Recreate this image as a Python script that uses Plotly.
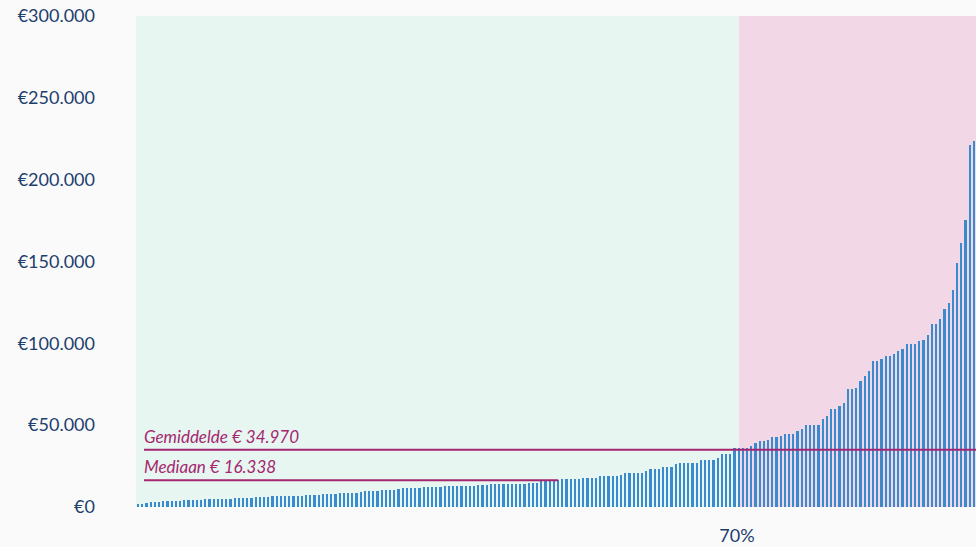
import plotly.graph_objects as go

# Income per 0.5% group, sorted ascending (euro)
incomes = [
    1600, 2000, 2400, 3100, 3100, 3100, 3700, 3700, 3700, 3700,
    3700, 4300, 4300, 4300, 4300, 4300, 4900, 4900, 4900, 4900,
    4900, 4900, 4900, 5500, 5500, 5500, 5500, 5500, 6100, 6100,
    6100, 6100, 6600, 6600, 6600, 6600, 7000, 7000, 7000, 7000,
    7400, 7400, 7400, 7400, 8000, 8000, 8000, 8000, 8800, 8800,
    8800, 8800, 8800, 9200, 9800, 9800, 9800, 9800, 10400, 10400,
    10400, 10400, 11100, 11400, 11400, 11400, 11400, 11400, 12300, 12300,
    12300, 12300, 12300, 12900, 12900, 12900, 12900, 12900, 12900, 12900,
    12900, 13500, 13500, 13500, 14300, 14300, 14300, 14300, 14300, 14300,
    14300, 14300, 14300, 14700, 14700, 14700, 16300, 16300, 16300, 16300,
    16300, 17000, 17000, 17000, 17000, 17000, 18000, 18000, 18000, 18000,
    19000, 19000, 19000, 19000, 19000, 19600, 20700, 20700, 20700, 20700,
    20700, 21700, 23100, 23100, 23100, 24600, 24600, 24600, 26200, 27000,
    27000, 27000, 27000, 27000, 28800, 28800, 28800, 28800, 29900, 32100,
    32100, 32100, 36000, 36000, 36000, 36000, 37400, 39100, 40400, 40400,
    41100, 42800, 42800, 43400, 44600, 44600, 44600, 46600, 47700, 50100,
    50100, 50100, 50100, 53800, 55400, 59900, 59900, 62000, 63600, 72200,
    72200, 72800, 76700, 79800, 83400, 89200, 89200, 90600, 92200, 92200,
    93300, 95100, 96800, 99800, 99800, 99800, 101400, 102300, 105400, 111700,
    111700, 114600, 120900, 124400, 132500, 148900, 161200, 175100, 220900, 223500,
]
assert len(incomes) == 200

groups = list(range(len(incomes)))
mean_value = 34970
median_value = 16338
mean_label = "Gemiddelde € 34.970"
median_label = "Mediaan € 16.338"
y_ticks = [0, 50000, 100000, 150000, 200000, 250000, 300000]
y_ticktext = ["€0", "€50.000", "€100.000", "€150.000", "€200.000", "€250.000", "€300.000"]
x_tick_label = "70%"

FONT = "Lato"
DARK_BLUE = "#1d3f6e"
MAGENTA = "#a5276f"
BAR_BLUE = "#3a8ace"

split_x = 143.07
x_lo, x_hi = -0.5, 199.5

fig = go.Figure()
fig.add_trace(go.Bar(
    x=groups, y=incomes, width=0.55,
    marker=dict(color=BAR_BLUE, line=dict(width=0)),
    hoverinfo="skip",
))

fig.add_shape(type="rect", xref="x", yref="y", x0=x_lo, x1=split_x, y0=0, y1=300000,
              fillcolor="#e7f6f1", line=dict(width=0), layer="below")
fig.add_shape(type="rect", xref="x", yref="y", x0=split_x, x1=x_hi, y0=0, y1=300000,
              fillcolor="#f2d8e6", line=dict(width=0), layer="below")

line_start = 1.4
fig.add_shape(type="line", xref="x", yref="y", x0=line_start, x1=x_hi, y0=mean_value, y1=mean_value,
              line=dict(color=MAGENTA, width=2), layer="above")
fig.add_shape(type="line", xref="x", yref="y", x0=line_start, x1=len(incomes) / 2, y0=median_value, y1=median_value,
              line=dict(color=MAGENTA, width=2), layer="above")

for val, txt in [(mean_value, mean_label), (median_value, median_label)]:
    fig.add_annotation(x=line_start, y=val, xref="x", yref="y", text=f"<i>{txt}</i>",
                       showarrow=False, xanchor="left", yanchor="bottom", yshift=1, xshift=-2,
                       font=dict(family=FONT, size=17, color=MAGENTA))

fig.update_layout(
    width=976, height=547,
    margin=dict(l=136, r=0, t=16, b=40),
    paper_bgcolor="#fafafa", plot_bgcolor="#fafafa",
    showlegend=False, bargap=0,
    font=dict(family=FONT, color=DARK_BLUE, size=17),
)
fig.update_xaxes(range=[x_lo, x_hi], tickvals=[142.6], ticktext=[x_tick_label],
                 showgrid=False, zeroline=False, showline=False, ticks="",
                 ticklabelstandoff=16, ticklabeloverflow="allow",
                 tickfont=dict(family=FONT, size=18, color=DARK_BLUE))
fig.update_yaxes(range=[0, 300000], tickvals=y_ticks, ticktext=y_ticktext,
                 showgrid=False, zeroline=False, showline=False, ticks="",
                 ticklabelstandoff=40, ticklabeloverflow="allow",
                 tickfont=dict(family=FONT, size=18, color=DARK_BLUE))

# remove the browser's default page margin so the 976x547 figure fills the window
fig.write_html("out.html", config={"displayModeBar": False},
               post_script="document.body.style.margin='0';")
